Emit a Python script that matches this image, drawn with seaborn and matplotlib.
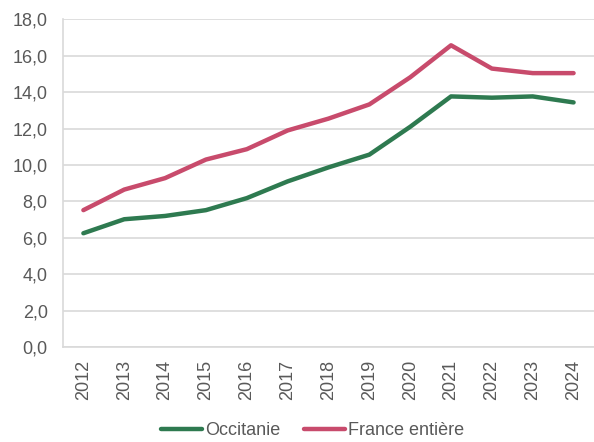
import matplotlib
matplotlib.use("Agg")
import matplotlib.pyplot as plt
import seaborn as sns
import pandas as pd

years = ["2012", "2013", "2014", "2015", "2016", "2017", "2018",
         "2019", "2020", "2021", "2022", "2023", "2024"]
occitanie = [6.25, 7.02, 7.2, 7.52, 8.18, 9.1, 9.87, 10.57, 12.1, 13.77, 13.7, 13.77, 13.44]
france = [7.52, 8.65, 9.28, 10.3, 10.87, 11.9, 12.55, 13.33, 14.82, 16.58, 15.3, 15.05, 15.05]
series_names = ["Occitanie", "France entière"]

df = pd.DataFrame({"year": years * 2,
                   "value": occitanie + france,
                   "serie": [series_names[0]] * len(years) + [series_names[1]] * len(years)})

sns.set_theme(style="white")
plt.rcParams['font.family'] = ['Liberation Sans', 'DejaVu Sans']

fig = plt.figure(figsize=(5.94, 4.42), dpi=100)
ax = fig.add_axes([0.106, 0.215, 0.894, 0.741])

palette = {"Occitanie": "#2e7a50", "France entière": "#c84b6c"}
sns.lineplot(data=df, x="year", y="value", hue="serie", palette=palette,
             linewidth=3.2, ax=ax, sort=False, legend=True)

ax.set_ylim(0, 18)
ax.set_xlim(-0.5, len(years) - 0.5)
ax.set_yticks(range(0, 19, 2))
ax.set_yticklabels([f"{v},0" for v in range(0, 19, 2)])
ax.grid(axis="y", color="#d9d9d9", linewidth=1.2)
ax.set_axisbelow(True)
for s in ["top", "right"]:
    ax.spines[s].set_visible(False)
for s in ["left", "bottom"]:
    ax.spines[s].set_color("#d9d9d9")
    ax.spines[s].set_linewidth(1.2)
ax.tick_params(axis="x", labelrotation=90, colors="#595959", labelsize=13, length=0, pad=9.5)
ax.tick_params(axis="y", colors="#595959", labelsize=13, length=0, pad=11)
ax.set_xlabel("")
ax.set_ylabel("")

handles, labels = ax.get_legend_handles_labels()
ax.legend(handles, labels, loc="center", bbox_to_anchor=(0.47, -0.255),
          ncol=2, frameon=False, fontsize=13, handlelength=2.3,
          handletextpad=0.15, columnspacing=1.3, labelcolor="#595959")

fig.savefig("out.png", dpi=100)
